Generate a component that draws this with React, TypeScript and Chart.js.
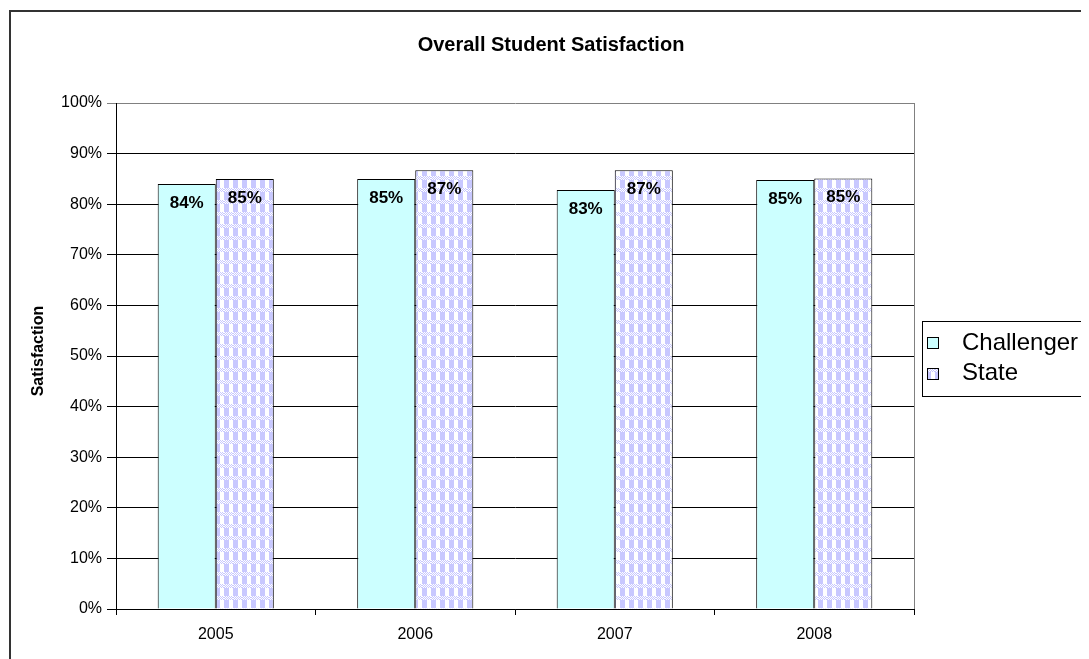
import { useEffect, useRef } from 'react';
import { Chart, registerables } from 'chart.js';

Chart.register(...registerables);

const years = ['2005', '2006', '2007', '2008'];
const challenger = [84, 85, 82.8, 84.8];
const state = [85, 86.7, 86.7, 85.1];
const seriesNames = ['Challenger', 'State'];
const chartTitle = 'Overall Student Satisfaction';
const yTitle = 'Satisfaction';

const FONT = '"Liberation Sans", Arial, Helvetica, sans-serif';
const W = 1081;
const H = 651;

function makePattern(ctx: CanvasRenderingContext2D): CanvasPattern | string {
  const c = document.createElement('canvas');
  c.width = 9;
  c.height = 12;
  const t = c.getContext('2d');
  if (!t) return '#d0d0ff';
  t.fillStyle = '#c8c8ff';
  t.fillRect(0, 0, 9, 12);
  t.fillStyle = '#ffffff';
  // white rectangles
  t.fillRect(5, 4, 4, 8);
  // fine checker band
  for (let y = 0; y < 4; y++) {
    for (let x = 0; x < 9; x++) {
      if ((x + y) % 2 === 0) t.fillRect(x, y, 1, 1);
    }
  }
  return ctx.createPattern(c, 'repeat') || '#d0d0ff';
}

export default function App() {
  const ref = useRef<HTMLCanvasElement | null>(null);

  useEffect(() => {
    const canvas = ref.current;
    if (!canvas) return;
    const ctx0 = canvas.getContext('2d') as CanvasRenderingContext2D;
    const pattern = makePattern(ctx0);
    const colors = ['#ccffff', pattern];

    const decor = {
      id: 'decor',
      afterDatasetsDraw(chart: any) {
        const ctx = chart.ctx as CanvasRenderingContext2D;
        ctx.save();
        ctx.font = `bold 17px ${FONT}`;
        ctx.fillStyle = '#000';
        ctx.textAlign = 'center';
        ctx.textBaseline = 'alphabetic';
        chart.data.datasets.forEach((ds: any, di: number) => {
          const meta = chart.getDatasetMeta(di);
          meta.data.forEach((bar: any, i: number) => {
            const v = ds.data[i] as number;
            ctx.fillText(Math.round(v) + '%', bar.x, bar.y + 24);
          });
        });
        ctx.restore();
      },
      afterDraw(chart: any) {
        const ctx = chart.ctx as CanvasRenderingContext2D;
        const a = chart.chartArea;
        ctx.save();
        // right border of plot area
        ctx.strokeStyle = '#808080';
        ctx.lineWidth = 1;
        const rx = Math.round(a.right) + 0.5;
        ctx.beginPath();
        ctx.moveTo(rx, a.top);
        ctx.lineTo(rx, a.bottom);
        ctx.stroke();

        // outer frame
        ctx.strokeStyle = '#333';
        ctx.lineWidth = 2;
        ctx.strokeRect(2, 3, 2000, 2000);

        // title
        ctx.fillStyle = '#000';
        ctx.font = `bold 20px ${FONT}`;
        ctx.textAlign = 'center';
        ctx.textBaseline = 'alphabetic';
        ctx.fillText(chartTitle, 543, 43);

        // y title
        ctx.save();
        ctx.translate(35, 343);
        ctx.rotate(-Math.PI / 2);
        ctx.font = `bold 16px ${FONT}`;
        ctx.textAlign = 'center';
        ctx.textBaseline = 'alphabetic';
        ctx.fillText(yTitle, 0, 0);
        ctx.restore();

        // legend
        ctx.strokeStyle = '#000';
        ctx.lineWidth = 1;
        ctx.strokeRect(914.5, 313.5, 300, 75);
        const rows = [
          { y: 329, base: 342 },
          { y: 360, base: 372 },
        ];
        rows.forEach((r, i) => {
          ctx.fillStyle = colors[i] as any;
          ctx.fillRect(919.5, r.y + 0.5, 11, 11);
          ctx.strokeStyle = '#000';
          ctx.strokeRect(919.5, r.y + 0.5, 11, 11);
          ctx.fillStyle = '#000';
          ctx.font = `24px ${FONT}`;
          ctx.textAlign = 'left';
          ctx.textBaseline = 'alphabetic';
          ctx.fillText(seriesNames[i], 954, r.base);
        });
        ctx.restore();
      },
    };

    const chart = new Chart(canvas, {
      type: 'bar',
      data: {
        labels: years,
        datasets: [
          {
            label: seriesNames[0],
            data: challenger,
            backgroundColor: colors[0] as any,
            borderColor: '#000',
            borderWidth: 1,
            categoryPercentage: 0.582,
            barPercentage: 1,
          },
          {
            label: seriesNames[1],
            data: state,
            backgroundColor: colors[1] as any,
            borderColor: '#000',
            borderWidth: 1,
            categoryPercentage: 0.582,
            barPercentage: 1,
          },
        ],
      },
      options: {
        responsive: false,
        animation: false,
        devicePixelRatio: 1,
        layout: { padding: { top: 95, right: W - 906, left: 0, bottom: 0 } },
        plugins: {
          legend: { display: false },
          title: { display: false },
          tooltip: { enabled: false },
        },
        scales: {
          x: {
            afterFit: (s: any) => {
              s.height = H - 601;
            },
            grid: {
              display: true,
              drawOnChartArea: false,
              drawTicks: true,
              tickLength: 6,
              color: '#000',
              offset: true,
            },
            border: { display: true, color: '#000', width: 1 },
            ticks: {
              color: '#000',
              font: { family: FONT, size: 16 },
              padding: 10,
              maxRotation: 0,
            },
          },
          y: {
            min: 0,
            max: 100,
            afterFit: (s: any) => {
              s.width = 108;
            },
            grid: {
              color: (c: any) => (c.tick && c.tick.value === 100 ? '#808080' : '#000'),
              tickLength: 9,
              drawTicks: true,
            },
            border: { display: true, color: '#000', width: 1 },
            ticks: {
              stepSize: 10,
              color: '#000',
              padding: 5,
              font: { family: FONT, size: 16 },
              callback: (v: any) => v + '%',
            },
          },
        },
      },
      plugins: [decor],
    });

    return () => chart.destroy();
  }, []);

  return (
    <canvas
      ref={ref}
      width={W}
      height={H}
      style={{ display: 'block', width: W + 'px', height: H + 'px' }}
    />
  );
}
